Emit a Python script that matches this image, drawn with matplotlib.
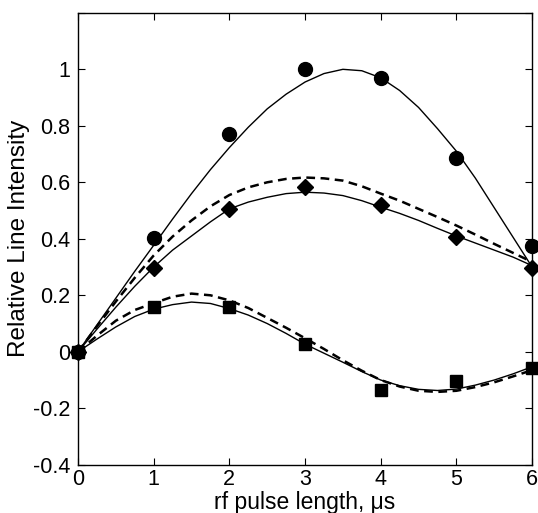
import matplotlib
matplotlib.use("Agg")
import matplotlib.pyplot as plt
import numpy as np

plt.rcParams['font.family'] = ['Liberation Sans', 'DejaVu Sans']

# measured points
t_pts = [0, 1, 2, 3, 4, 5, 6]
circles = [0, 0.404, 0.77, 1.0, 0.97, 0.687, 0.376]
diamonds = [0, 0.298, 0.506, 0.582, 0.521, 0.406, 0.295]
squares = [0, 0.157, 0.157, 0.027, -0.135, -0.102, -0.059]

# curves (0.25 us step)
t_curve = [0, 0.25, 0.5, 0.75, 1, 1.25, 1.5, 1.75, 2, 2.25, 2.5, 2.75, 3,
           3.25, 3.5, 3.75, 4, 4.25, 4.5, 4.75, 5, 5.25, 5.5, 5.75, 6]
circ_fit = [0, 0.095, 0.19, 0.285, 0.377, 0.47, 0.56, 0.645, 0.723, 0.795, 0.86,
            0.912, 0.955, 0.985, 1.0, 0.995, 0.97, 0.925, 0.865, 0.79, 0.71,
            0.615, 0.51, 0.405, 0.30]
diam_fit = [0, 0.08, 0.158, 0.232, 0.30, 0.36, 0.41, 0.46, 0.506, 0.53, 0.547,
            0.56, 0.565, 0.562, 0.553, 0.535, 0.512, 0.49, 0.465, 0.437, 0.41,
            0.385, 0.36, 0.335, 0.305]
diam_dash = [0, 0.09, 0.178, 0.262, 0.341, 0.408, 0.465, 0.515, 0.555, 0.582, 0.6,
             0.612, 0.617, 0.614, 0.606, 0.586, 0.56, 0.535, 0.506, 0.477, 0.447,
             0.415, 0.382, 0.35, 0.318]
sq_fit = [0, 0.045, 0.088, 0.125, 0.151, 0.167, 0.176, 0.171, 0.153, 0.13, 0.1,
          0.065, 0.027, -0.005, -0.037, -0.07, -0.1, -0.12, -0.133, -0.137, -0.132,
          -0.118, -0.1, -0.078, -0.053]
sq_dash = [0, 0.057, 0.11, 0.148, 0.172, 0.195, 0.206, 0.2, 0.182, 0.155, 0.12,
           0.085, 0.048, 0.01, -0.03, -0.067, -0.1, -0.123, -0.138, -0.142, -0.138,
           -0.125, -0.108, -0.087, -0.065]

xticks = [0, 1, 2, 3, 4, 5, 6]
yticks = [-0.4, -0.2, 0, 0.2, 0.4, 0.6, 0.8, 1.0, 1.2]
ytick_labels = ['-0.4', '-0.2', '0', '0.2', '0.4', '0.6', '0.8', '1', '']

fig = plt.figure(figsize=(5.38, 5.13), dpi=100)
ax = fig.add_axes([0.145, 0.094, 0.844, 0.881])

ax.plot(t_curve, circ_fit, color='black', lw=1.0)
ax.plot(t_curve, diam_fit, color='black', lw=1.0)
ax.plot(t_curve, diam_dash, color='black', lw=1.8, ls=(0, (3.5, 2.2)))
ax.plot(t_curve, sq_fit, color='black', lw=1.0)
ax.plot(t_curve, sq_dash, color='black', lw=1.8, ls=(0, (3.5, 2.2)))

ax.plot(t_pts, circles, 'o', color='black', ms=10, clip_on=False, zorder=5)
ax.plot(t_pts, diamonds, 'D', color='black', ms=8, clip_on=False, zorder=5)
ax.plot(t_pts, squares, 's', color='black', ms=8, clip_on=False, zorder=5)

ax.set_xlim(0, 6)
ax.set_ylim(-0.4, 1.2)
ax.set_xticks(xticks)
ax.set_xticklabels([str(v) for v in xticks])
ax.set_yticks(yticks)
ax.set_yticklabels(ytick_labels)
ax.tick_params(direction='in', length=5, width=0.8, top=True, right=True,
               labelsize=15.5)
ax.tick_params(axis='x', pad=3)
ax.tick_params(axis='y', pad=5.5)
for s in ax.spines.values():
    s.set_linewidth(1.0)

ax.set_xlabel('rf pulse length, \u03bcs', fontsize=16.5, labelpad=1)
ax.set_ylabel('Relative Line Intensity', fontsize=17.5, labelpad=2)

fig.savefig('out.png', dpi=100)
